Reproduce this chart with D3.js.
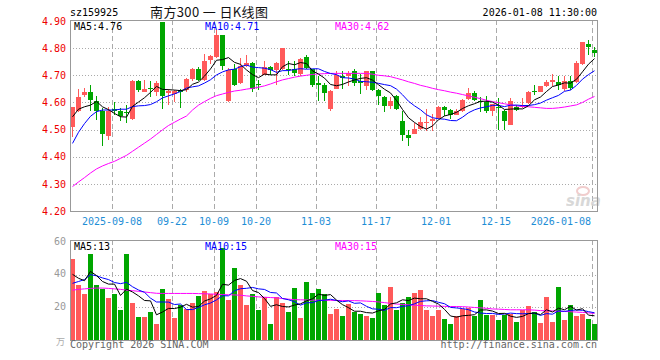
<!DOCTYPE html>
<html><head><meta charset="utf-8">
<script src="https://cdn.jsdelivr.net/npm/d3@7"></script>
<style>
body{margin:0;background:#fff;}
svg{display:block;}
text{font-family:"DejaVu Sans Mono",monospace;font-size:10px;}
</style>
</head><body>
<svg id="c" width="660" height="360"></svg>
<script>
const dates = ["2025-08-28","2025-08-29","2025-09-01","2025-09-02","2025-09-03","2025-09-04","2025-09-05",
"2025-09-08","2025-09-09","2025-09-10","2025-09-11","2025-09-12","2025-09-15","2025-09-16","2025-09-17","2025-09-18","2025-09-19",
"2025-09-22","2025-09-23","2025-09-24","2025-09-25","2025-09-26","2025-09-29","2025-09-30",
"2025-10-09","2025-10-10","2025-10-13","2025-10-14","2025-10-15","2025-10-16","2025-10-17",
"2025-10-20","2025-10-21","2025-10-22","2025-10-23","2025-10-24","2025-10-27","2025-10-28","2025-10-29","2025-10-30","2025-10-31",
"2025-11-03","2025-11-04","2025-11-05","2025-11-06","2025-11-07","2025-11-10","2025-11-11","2025-11-12","2025-11-13","2025-11-14",
"2025-11-17","2025-11-18","2025-11-19","2025-11-20","2025-11-21","2025-11-24","2025-11-25","2025-11-26","2025-11-27","2025-11-28",
"2025-12-01","2025-12-02","2025-12-03","2025-12-04","2025-12-05","2025-12-08","2025-12-09","2025-12-10","2025-12-11","2025-12-12",
"2025-12-15","2025-12-16","2025-12-17","2025-12-18","2025-12-19","2025-12-22","2025-12-23","2025-12-24","2025-12-25","2025-12-26",
"2025-12-29","2025-12-30","2025-12-31","2026-01-05","2026-01-06","2026-01-07","2026-01-08"];

const opens = [4.508,4.567,4.626,4.640,4.607,4.567,4.478,4.576,4.567,4.566,
4.540,4.680,4.640,4.655,4.640,4.895,4.636,4.630,4.645,4.646,
4.686,4.724,4.683,4.755,4.769,4.847,4.606,4.722,4.671,4.735,
4.745,4.668,4.702,4.730,4.718,4.723,4.725,4.723,4.704,4.769,
4.723,4.671,4.665,4.577,4.650,4.698,4.696,4.714,4.678,4.661,
4.714,4.647,4.620,4.588,4.625,4.533,4.481,4.485,4.502,4.524,
4.530,4.542,4.585,4.573,4.555,4.567,4.612,4.634,4.606,4.600,
4.567,4.585,4.567,4.518,4.585,4.583,4.598,4.643,4.640,4.659,
4.677,4.677,4.650,4.680,4.674,4.741,4.816,4.794];
const highs = [4.585,4.650,4.652,4.664,4.625,4.580,4.585,4.600,4.580,4.590,
4.683,4.683,4.683,4.680,4.678,4.895,4.648,4.646,4.650,4.690,
4.728,4.730,4.778,4.776,4.868,4.850,4.728,4.740,4.765,4.775,
4.748,4.683,4.751,4.735,4.748,4.802,4.751,4.751,4.762,4.775,
4.725,4.696,4.670,4.645,4.714,4.714,4.716,4.724,4.705,4.716,
4.716,4.650,4.625,4.620,4.627,4.567,4.497,4.524,4.546,4.577,
4.558,4.588,4.588,4.576,4.577,4.612,4.655,4.643,4.620,4.625,
4.596,4.616,4.573,4.616,4.590,4.616,4.641,4.665,4.662,4.683,
4.704,4.696,4.696,4.696,4.751,4.823,4.831,4.806];
const lows = [4.474,4.565,4.619,4.567,4.535,4.438,4.462,4.555,4.530,4.525,
4.536,4.640,4.638,4.620,4.625,4.575,4.590,4.603,4.580,4.640,
4.680,4.678,4.680,4.740,4.765,4.720,4.603,4.660,4.668,4.730,
4.638,4.647,4.700,4.702,4.665,4.720,4.702,4.696,4.696,4.722,
4.656,4.607,4.604,4.567,4.648,4.650,4.662,4.659,4.630,4.647,
4.643,4.591,4.563,4.577,4.571,4.459,4.438,4.482,4.500,4.493,
4.493,4.540,4.551,4.539,4.553,4.565,4.610,4.605,4.563,4.561,
4.551,4.499,4.499,4.516,4.568,4.580,4.596,4.628,4.637,4.657,
4.661,4.647,4.641,4.647,4.672,4.739,4.775,4.769];
const closes = [4.583,4.619,4.640,4.610,4.567,4.483,4.567,4.570,4.550,4.560,
4.680,4.647,4.650,4.648,4.670,4.625,4.642,4.643,4.638,4.687,
4.724,4.683,4.753,4.770,4.847,4.736,4.720,4.665,4.733,4.745,
4.650,4.663,4.732,4.718,4.745,4.800,4.722,4.708,4.760,4.726,
4.665,4.663,4.634,4.643,4.702,4.690,4.708,4.671,4.672,4.714,
4.647,4.622,4.588,4.604,4.575,4.481,4.469,4.503,4.528,4.528,
4.539,4.583,4.573,4.555,4.567,4.610,4.634,4.610,4.600,4.567,
4.594,4.579,4.530,4.607,4.573,4.591,4.637,4.640,4.659,4.674,
4.683,4.665,4.680,4.653,4.745,4.821,4.806,4.782];
const volumes = [49.3,33.6,28.0,52.8,33.6,31.1,25.6,28.0,18.1,52.8,
22.5,13.8,13.8,16.9,10.1,31.1,24.9,13.2,21.2,18.8,
22.5,26.8,29.9,28.0,29.3,56.5,24.3,44.3,33.6,21.2,
28.0,18.1,26.2,9.5,26.2,22.5,16.9,31.8,13.2,35.5,
28.7,31.1,28.0,15.7,18.8,14.6,21.9,17.1,15.7,14.6,
13.2,28.7,21.2,32.6,18.1,22.5,26.4,28.7,30.5,18.1,
14.6,18.1,12.6,10.1,14.6,18.8,19.4,14.6,24.3,15.1,
15.1,12.0,15.1,15.7,11.3,18.1,20.6,16.9,10.7,26.2,
11.3,32.4,12.0,21.2,14.6,15.7,12.6,10.1];

const ma5Head = [4.547,4.575,4.584,4.590];
const ma10Head = [4.449,4.490,4.522,4.549,4.566,4.572,4.572,4.572,4.575];
const ma30 = [4.290,4.307,4.323,4.340,4.355,4.366,4.375,4.383,4.394,4.405,
4.420,4.435,4.450,4.465,4.482,4.499,4.515,4.527,4.539,4.550,
4.572,4.590,4.603,4.615,4.625,4.631,4.637,4.642,4.645,4.649,
4.652,4.656,4.661,4.668,4.676,4.683,4.688,4.693,4.697,4.700,
4.703,4.705,4.706,4.707,4.707,4.707,4.707,4.707,4.707,4.707,
4.704,4.700,4.698,4.695,4.689,4.683,4.676,4.670,4.663,4.658,
4.652,4.647,4.643,4.638,4.634,4.629,4.624,4.619,4.614,4.608,
4.603,4.599,4.595,4.591,4.587,4.585,4.584,4.582,4.580,4.578,
4.578,4.580,4.583,4.587,4.591,4.600,4.612,4.622];
const vma5Head = [40.2,37.8,36.3,42.0];
const vma10Head = [34.7,35.8,37.0,40.0,39.3,38.0,37.0,35.2,34.5];
const vma30 = [30.5,31.0,31.3,31.6,31.8,31.8,31.6,31.3,31.0,30.5,
30.2,29.8,29.4,29.0,28.6,28.5,28.5,28.5,28.5,28.5,
28.5,28.4,28.3,28.2,28.0,27.8,27.7,27.6,27.4,27.0,
26.7,26.4,26.2,26.0,25.8,25.4,25.0,24.7,24.6,24.5,
24.4,24.4,24.3,24.3,24.2,24.2,24.1,24.1,24.0,23.8,
23.6,23.3,22.9,22.4,22.0,21.8,21.5,21.3,21.1,20.9,
20.8,20.7,20.6,20.5,20.5,20.4,20.2,19.9,19.7,19.4,
19.0,18.9,18.7,18.5,18.5,18.5,18.5,18.3,18.0,17.9,
17.8,17.6,17.5,17.3,17.1,16.9,16.6,16.3];

const priceTicks = [4.20,4.30,4.40,4.50,4.60,4.70,4.80,4.90];
const volTicks = [20,40,60];
const tickDates = ["2025-09-08","2025-09-22","2025-10-09","2025-10-20","2025-11-03","2025-11-17","2025-12-01","2025-12-15","2026-01-08"];
const tickLabels = ["2025-09-08","09-22","10-09","10-20","11-03","11-17","12-01","12-15","2026-01-08"];
const code = "sz159925";
const title = "南方300 一 日K线图";
const stamp = "2026-01-08 11:30:00";
const priceMALabels = ["MA5:4.76","MA10:4.71","MA30:4.62"];
const volMALabels = ["MA5:13","MA10:15","MA30:15"];
const volUnit = "万";

const RED = "#ff5a5a", GREEN = "#00a600";
const maColors = ["#000000","#0000ff","#ff00ff"];

function movingAvg(vals, n, head){
  return vals.map((v,i)=> i < n-1 ? head[i] : d3.mean(vals.slice(i-n+1,i+1)));
}
const ma5 = movingAvg(closes,5,ma5Head);
const ma10 = movingAvg(closes,10,ma10Head);
const vma5 = movingAvg(volumes,5,vma5Head);
const vma10 = movingAvg(volumes,10,vma10Head);

const svg = d3.select("#c");
const L = 70, R = 598;
const mTop = 20, mBot = 211, vTop = 240, vBot = 340;

const x = d3.scaleBand().domain(dates).range([L,R]).padding(0);
const bw = x.bandwidth() - 1;
const y = d3.scaleLinear().domain([4.20,4.90]).range([mBot,21]);
const yv = d3.scaleLinear().domain([0,60]).range([vBot,242]);

// grids
function hgrid(scale, vals){
  svg.append("g").selectAll("line").data(vals).join("line")
    .attr("x1",L).attr("x2",R-1)
    .attr("y1",d=>Math.round(scale(d))+0.5).attr("y2",d=>Math.round(scale(d))+0.5)
    .attr("stroke","#aaa").attr("stroke-dasharray","1,2");
}
hgrid(y, priceTicks.filter(d=>d>4.2 && d<4.9));
hgrid(yv, [20,40]);
function vgrid(t,b){
  svg.append("g").selectAll("line").data(tickDates).join("line")
    .attr("x1",d=>x(d)+0.5).attr("x2",d=>x(d)+0.5)
    .attr("y1",t).attr("y2",b)
    .attr("stroke","#aaa").attr("stroke-dasharray","5,3");
}
vgrid(mTop,mBot); vgrid(vTop,vBot);

// sina watermark
const wm = svg.append("g").attr("opacity",0.9);
wm.append("ellipse").attr("cx",583).attr("cy",191).attr("rx",6).attr("ry",4).attr("fill","none").attr("stroke","#f0c8c8").attr("stroke-width",2);
wm.append("text").attr("x",566).attr("y",206).text("sina")
  .style("font-family","DejaVu Sans").style("font-size","15px").style("font-style","italic").style("font-weight","bold").attr("fill","#d4d4d4");

// candles
const cg = svg.append("g");
const isUp = i => closes[i] >= opens[i];
cg.selectAll("line").data(dates).join("line")
  .attr("x1",(d)=>x(d)+2.5).attr("x2",(d)=>x(d)+2.5)
  .attr("y1",(d,i)=>Math.round(y(highs[i]))).attr("y2",(d,i)=>Math.round(y(lows[i])))
  .attr("stroke",(d,i)=>isUp(i)?RED:GREEN);
cg.selectAll("rect").data(dates).join("rect")
  .attr("x",d=>x(d)).attr("width",bw)
  .attr("y",(d,i)=>Math.round(y(Math.max(opens[i],closes[i]))))
  .attr("height",(d,i)=>Math.max(1,Math.round(y(Math.min(opens[i],closes[i])))-Math.round(y(Math.max(opens[i],closes[i])))))
  .attr("fill",(d,i)=>isUp(i)?RED:GREEN);

// volume bars
svg.append("g").selectAll("rect").data(dates).join("rect")
  .attr("x",d=>x(d)).attr("width",bw)
  .attr("y",(d,i)=>Math.round(yv(volumes[i])))
  .attr("height",(d,i)=>vBot-Math.round(yv(volumes[i])))
  .attr("fill",(d,i)=>isUp(i)?RED:GREEN);

// MA lines
function maLine(vals, scale, color){
  const line = d3.line().x((d,i)=>x(dates[i])+2.5).y(d=>scale(d));
  svg.append("path").datum(vals).attr("d",line).attr("fill","none").attr("stroke",color).attr("stroke-width",1);
}
maLine(ma30,y,maColors[2]); maLine(ma10,y,maColors[1]); maLine(ma5,y,maColors[0]);
maLine(vma30,yv,maColors[2]); maLine(vma10,yv,maColors[1]); maLine(vma5,yv,maColors[0]);

// borders
svg.append("rect").attr("x",L+0.5).attr("y",mTop+0.5).attr("width",R-L-1).attr("height",mBot-mTop).attr("fill","none").attr("stroke","#999");
svg.append("rect").attr("x",L+0.5).attr("y",vTop+0.5).attr("width",R-L-1).attr("height",vBot-vTop).attr("fill","none").attr("stroke","#999");

// axes
const ya = svg.append("g").attr("transform",`translate(${L},0)`)
  .call(d3.axisLeft(y).tickValues(priceTicks).tickFormat(d3.format(".2f")).tickSize(0).tickPadding(4));
ya.select(".domain").remove();
ya.selectAll("text").attr("fill","#ee0000").style("font-family","DejaVu Sans Mono").style("font-size","10px");

const va = svg.append("g").attr("transform",`translate(${L},0)`)
  .call(d3.axisLeft(yv).tickValues(volTicks).tickSize(0).tickPadding(4));
va.select(".domain").remove();
va.selectAll("text").attr("fill","#999").attr("dy","0.2em").style("font-family","DejaVu Sans Mono").style("font-size","10px");
svg.append("text").attr("x",56).attr("y",345).attr("fill","#aaa").text(volUnit)
  .style("font-family","'Noto Sans CJK SC'").style("font-size","9px");

const xa = svg.append("g").attr("transform",`translate(0,${mBot})`)
  .call(d3.axisBottom(x).tickValues(tickDates).tickFormat((d,i)=>tickLabels[i]).tickSize(0));
xa.select(".domain").remove();
xa.selectAll("text").attr("fill","#1e8ed6").attr("y",14).attr("dy",0).attr("x",-3)
  .style("font-family","DejaVu Sans Mono").style("font-size","10px");
xa.selectAll(".tick").filter((d,i)=>i===tickDates.length-1).select("text").attr("text-anchor","end").attr("x",-4);

// header texts
svg.append("text").attr("x",L).attr("y",16).text(code).attr("fill","#000");
svg.append("text").attr("x",150).attr("y",17).text(title).attr("fill","#111")
  .attr("textLength",118).attr("lengthAdjust","spacing")
  .style("font-family","'Noto Sans CJK SC'").style("font-size","13px");
svg.append("text").attr("x",597).attr("y",16).attr("text-anchor","end").text(stamp).attr("fill","#000");

const maX = [74,205,335];
svg.append("g").selectAll("text").data(priceMALabels).join("text")
  .attr("x",(d,i)=>maX[i]).attr("y",30).attr("fill",(d,i)=>maColors[i]).text(d=>d);
svg.append("g").selectAll("text").data(volMALabels).join("text")
  .attr("x",(d,i)=>maX[i]).attr("y",250).attr("fill",(d,i)=>maColors[i]).text(d=>d);

svg.append("text").attr("x",L).attr("y",348).attr("fill","#666").text("Copyright 2026 SINA.COM");
svg.append("text").attr("x",597).attr("y",348).attr("text-anchor","end").attr("fill","#666").text("http://finance.sina.com.cn");
</script>
</body></html>
